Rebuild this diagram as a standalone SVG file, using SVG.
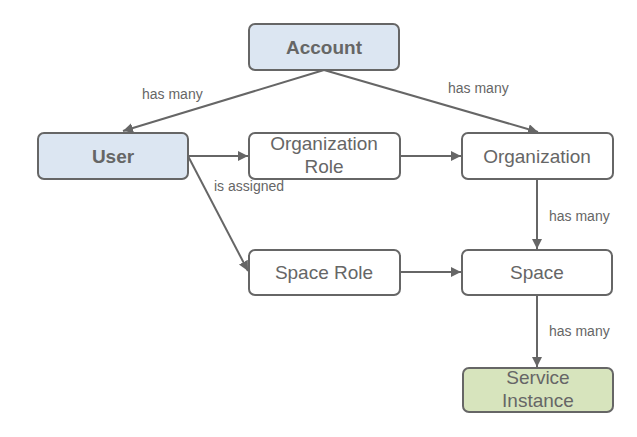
<svg xmlns="http://www.w3.org/2000/svg" width="637" height="437" viewBox="0 0 637 437">
<style>
.box{fill:#fff;stroke:#666;stroke-width:2}
.blue{fill:#dce6f2}
.green{fill:#d7e4bd}
.t{font-family:"Liberation Sans",Arial,sans-serif;font-size:19px;fill:#666;text-anchor:middle}
.b{font-weight:bold}
.l{font-family:"Liberation Sans",Arial,sans-serif;font-size:14px;fill:#666}
.c{stroke:#666;stroke-width:2;fill:none;marker-end:url(#ah)}
</style>
<defs>
<marker id="ah" viewBox="0 0 10 10" refX="10" refY="5" markerWidth="10" markerHeight="10" markerUnits="userSpaceOnUse" orient="auto">
<path d="M0,0 L10,5 L0,10 z" fill="#666"/>
</marker>
</defs>
<rect width="637" height="437" fill="#fff"/>
<g id="connectors">
<line class="c" x1="324" y1="70" x2="123" y2="131"/>
<line class="c" x1="324" y1="70" x2="538" y2="132"/>
<line class="c" x1="188" y1="156" x2="248" y2="156"/>
<line class="c" x1="188" y1="156" x2="248" y2="271"/>
<line class="c" x1="400" y1="156" x2="461" y2="156"/>
<line class="c" x1="400" y1="272" x2="461" y2="272"/>
<line class="c" x1="537" y1="179" x2="537" y2="249"/>
<line class="c" x1="537" y1="295" x2="537" y2="367"/>
<text class="l" x="142" y="99">has many</text>
<text class="l" x="448" y="93">has many</text>
<text class="l" x="214" y="191">is assigned</text>
<text class="l" x="549" y="221">has many</text>
<text class="l" x="549" y="336">has many</text>
</g>
<g id="account"><rect class="box blue" x="249" y="24" width="150" height="46" rx="6"/><text class="t b" x="324" y="54">Account</text></g>
<g id="user"><rect class="box blue" x="38" y="133" width="150" height="46" rx="6"/><text class="t b" x="113" y="163">User</text></g>
<g id="orgrole"><rect class="box" x="249" y="133" width="151" height="46" rx="6"/><text class="t" x="324" y="150">Organization</text><text class="t" x="324" y="173">Role</text></g>
<g id="organization"><rect class="box" x="462" y="133" width="151" height="46" rx="6"/><text class="t" x="537" y="163">Organization</text></g>
<g id="spacerole"><rect class="box" x="249" y="250" width="151" height="45" rx="6"/><text class="t" x="324" y="279">Space Role</text></g>
<g id="space"><rect class="box" x="462" y="250" width="150" height="45" rx="6"/><text class="t" x="537" y="279">Space</text></g>
<g id="serviceinstance"><rect class="box green" x="463" y="368" width="150" height="44" rx="6"/><text class="t" x="538" y="384">Service</text><text class="t" x="538" y="407">Instance</text></g>
</svg>
